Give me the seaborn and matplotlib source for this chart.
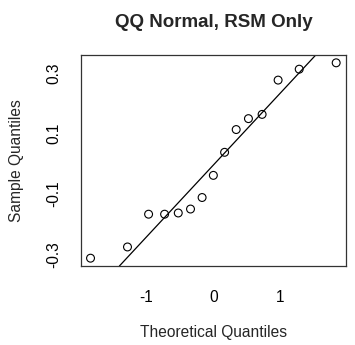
import numpy as np
import pandas as pd
import matplotlib
matplotlib.use("Agg")
import matplotlib.pyplot as plt
import seaborn as sns

# Data
theoretical = [-1.834, -1.282, -0.967, -0.728, -0.524, -0.341, -0.168, 0.0,
               0.168, 0.341, 0.524, 0.728, 0.967, 1.282, 1.834]
sample = [-0.311, -0.274, -0.166, -0.166, -0.162, -0.149, -0.111, -0.038,
          0.038, 0.113, 0.149, 0.163, 0.276, 0.312, 0.333]
x_ticks = [-1, 0, 1]
x_ticklabels = ["-1", "0", "1"]
y_ticks = [-0.3, -0.2, -0.1, 0.0, 0.1, 0.2, 0.3]
y_ticklabels = ["-0.3", "", "-0.1", "", "0.1", "", "0.3"]
title = "QQ Normal, RSM Only"
xlabel = "Theoretical Quantiles"
ylabel = "Sample Quantiles"

sns.set_style("white")
plt.rcParams['font.family'] = ['Liberation Sans', 'DejaVu Sans']

df = pd.DataFrame({"x": theoretical, "y": sample})

W, H = 355, 345
fig = plt.figure(figsize=(W / 100, H / 100), dpi=100)
L, R, T, B = 80.7, 346, 55, 266
ax = fig.add_axes([L / W, 1 - B / H, (R - L) / W, (B - T) / H])

sns.scatterplot(data=df, x="x", y="y", ax=ax, marker="o", s=32,
                facecolor="none", edgecolor="black", linewidth=0.8, zorder=3)

# qqline through first and third quartiles
q_y = np.quantile(sample, [0.25, 0.75])
q_x = np.array([-0.6744898, 0.6744898])
slope = (q_y[1] - q_y[0]) / (q_x[1] - q_x[0])
intercept = q_y[0] - slope * q_x[0]
ax.axline((0, intercept), slope=slope, color="black", linewidth=0.9, zorder=2)

rx = max(theoretical) - min(theoretical)
ry = max(sample) - min(sample)
ax.set_xlim(min(theoretical) - 0.04 * rx, max(theoretical) + 0.04 * rx)
ax.set_ylim(min(sample) - 0.04 * ry, max(sample) + 0.04 * ry)

ax.set_xticks(x_ticks)
ax.set_xticklabels(x_ticklabels)
ax.set_yticks(y_ticks)
ax.set_yticklabels(y_ticklabels, rotation=90, va="center")
ax.tick_params(axis="both", direction="out", length=6.5, width=0.8,
               color="#333333", labelsize=11.2, labelcolor="black")
ax.tick_params(axis="x", pad=11)
ax.tick_params(axis="y", pad=7.5)
ax.set_xlabel("")
ax.set_ylabel("")
for sp in ax.spines.values():
    sp.set_visible(True)
    sp.set_color("#333333")
    sp.set_linewidth(0.9)

fig.text((L + R) / 2 / W, 1 - 27 / H, title, ha="center", va="baseline",
         fontsize=13.5, fontweight="bold")
fig.text((L + R) / 2 / W, 1 - 337 / H, xlabel, ha="center", va="baseline",
         fontsize=11.2)
fig.text(17 / W, 1 - (T + B) / 2 / H, ylabel, ha="center", va="center",
         rotation=90, fontsize=11.2)

fig.savefig("out.png", dpi=100)
